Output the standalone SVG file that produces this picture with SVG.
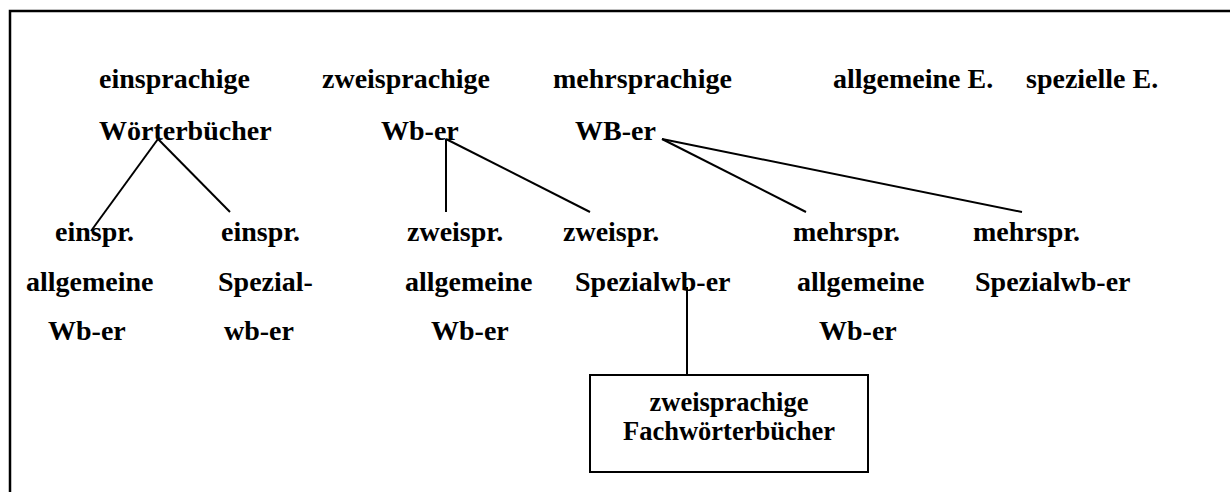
<svg xmlns="http://www.w3.org/2000/svg" width="1230" height="492" viewBox="0 0 1230 492">
<style>
  text { font-family: "Liberation Serif", "Times New Roman", serif; font-weight: bold; font-size: 28px; fill: #000; }
  .box-text { font-size: 26.5px; text-anchor: middle; }
  .conn line { stroke: #000; stroke-width: 2; }
  .frame { fill: none; stroke: #000; stroke-width: 2.5; }
  .box { fill: #fff; stroke: #000; stroke-width: 2; }
</style>
<rect width="1230" height="492" fill="#fff"/>
<path class="frame" d="M10,500 V11 H1240"/>

<g id="connectors" class="conn">
  <line x1="158" y1="139" x2="91" y2="231"/>
  <line x1="158" y1="139" x2="230" y2="212"/>
  <line x1="446" y1="139" x2="446" y2="212"/>
  <line x1="446" y1="139" x2="590" y2="212"/>
  <line x1="662" y1="139" x2="806" y2="212"/>
  <line x1="662" y1="139" x2="1022" y2="212"/>
  <line x1="687" y1="287" x2="687" y2="376"/>
</g>

<g id="node-einsprachige"><text x="99" y="88">einsprachige</text><text x="99" y="140">Wörterbücher</text></g>
<g id="node-zweisprachige"><text x="322" y="88">zweisprachige</text><text x="381" y="140">Wb-er</text></g>
<g id="node-mehrsprachige"><text x="553" y="88">mehrsprachige</text><text x="575" y="140">WB-er</text></g>
<g id="node-allgemeine-e"><text x="833" y="88">allgemeine E.</text></g>
<g id="node-spezielle-e"><text x="1026" y="88">spezielle E.</text></g>

<g id="node-einspr-allg"><text x="55" y="241">einspr.</text><text x="26" y="291">allgemeine</text><text x="48" y="340">Wb-er</text></g>
<g id="node-einspr-spez"><text x="221" y="241">einspr.</text><text x="218" y="291">Spezial-</text><text x="224" y="340">wb-er</text></g>
<g id="node-zweispr-allg"><text x="407" y="241">zweispr.</text><text x="405" y="291">allgemeine</text><text x="431" y="340">Wb-er</text></g>
<g id="node-zweispr-spez"><text x="563" y="241">zweispr.</text><text x="575" y="291">Spezialwb-er</text></g>
<g id="node-mehrspr-allg"><text x="793" y="241">mehrspr.</text><text x="797" y="291">allgemeine</text><text x="819" y="340">Wb-er</text></g>
<g id="node-mehrspr-spez"><text x="973" y="241">mehrspr.</text><text x="975" y="291">Spezialwb-er</text></g>

<g id="node-fachwb">
  <rect class="box" x="590" y="375" width="278" height="97"/>
  <text class="box-text" x="729" y="411">zweisprachige</text>
  <text class="box-text" x="729" y="440">Fachwörterbücher</text>
</g>
</svg>
